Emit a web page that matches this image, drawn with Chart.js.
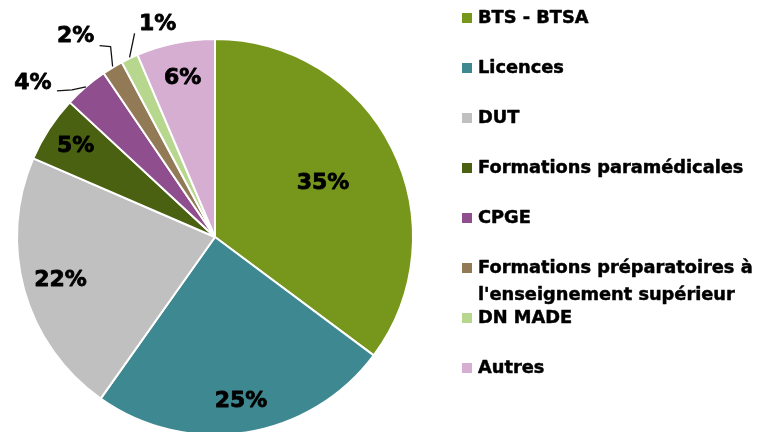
<!DOCTYPE html>
<html>
<head>
<meta charset="utf-8">
<script src="https://cdn.jsdelivr.net/npm/chart.js@4/dist/chart.umd.min.js"></script>
<style>
    html, body { margin: 0; padding: 0; background: #fff; overflow: hidden; }
    #wrap { width: 759px; height: 440px; }
</style>
</head>
<body>
<div id="wrap"><canvas id="pieChart" width="759" height="440"></canvas></div>
<script>
const categories = ['BTS - BTSA', 'Licences', 'DUT', 'Formations paramédicales', 'CPGE',
    "Formations préparatoires à\nl'enseignement supérieur", 'DN MADE', 'Autres'];
const shares = [35.2, 24.6, 21.7, 5.4, 3.6, 1.7, 1.4, 6.4];
const colors = ['#76971c', '#3e8891', '#c0c0c0', '#4a6112', '#8f4f8e', '#937a57', '#b8d78e', '#d5aed2'];

// label placement: inside at a fraction of the radius, or outside with a leader line
const labelStyle = [
    { r: 0.61 }, { r: 0.84 }, { r: 0.81 }, { r: 0.84 },
    { dx: -53, dy: -4, line: [[0, 0], [-14, 3], [-29, 4]] },
    { dx: -37, dy: -31, line: [[0, -1], [-2, -21], [-13, -22]] },
    { dx: 28, dy: -34, line: [[0, -1], [5, -25]] },
    { r: 0.82 }
];

function boldText(ctx, txt, x, y, w) {
    ctx.lineWidth = w;
    ctx.strokeStyle = '#000';
    ctx.strokeText(txt, x, y);
    ctx.fillText(txt, x, y);
}

const labelsPlugin = {
    id: 'pieLabels',
    afterDatasetsDraw(chart) {
        const ctx = chart.ctx;
        const meta = chart.getDatasetMeta(0);
        ctx.save();
        ctx.font = 'bold 22px "DejaVu Sans"';
        ctx.textAlign = 'center';
        ctx.textBaseline = 'middle';
        ctx.lineJoin = 'round';
        ctx.fillStyle = '#000';
        meta.data.forEach((arc, i) => {
            const p = arc.getProps(['x', 'y', 'startAngle', 'endAngle', 'outerRadius'], true);
            const mid = (p.startAngle + p.endAngle) / 2;
            const txt = Math.round(shares[i]) + '%';
            const st = labelStyle[i];
            if (st.r !== undefined) {
                const r = p.outerRadius * st.r;
                boldText(ctx, txt, p.x + Math.cos(mid) * r, p.y + Math.sin(mid) * r, 0.8);
            } else {
                const ex = p.x + Math.cos(mid) * p.outerRadius;
                const ey = p.y + Math.sin(mid) * p.outerRadius;
                ctx.beginPath();
                st.line.forEach((pt, k) => {
                    if (k === 0) ctx.moveTo(ex + pt[0], ey + pt[1]);
                    else ctx.lineTo(ex + pt[0], ey + pt[1]);
                });
                ctx.strokeStyle = '#111';
                ctx.lineWidth = 1.3;
                ctx.stroke();
                boldText(ctx, txt, ex + st.dx, ey + st.dy, 0.8);
            }
        });

        // legend
        ctx.font = 'bold 17.8px "DejaVu Sans"';
        ctx.textAlign = 'left';
        chart.data.labels.forEach((lab, i) => {
            const y = 18 + i * 50;
            ctx.fillStyle = colors[i];
            ctx.fillRect(462, y - 5, 10, 10);
            ctx.fillStyle = '#000';
            lab.split('\n').forEach((line, k) => {
                boldText(ctx, line, 478, y + k * 27, 0.5);
            });
        });
        ctx.restore();
    }
};

new Chart(document.getElementById('pieChart'), {
    type: 'pie',
    data: {
        labels: categories,
        datasets: [{
            data: shares,
            backgroundColor: colors,
            borderColor: '#ffffff',
            borderWidth: 2
        }]
    },
    options: {
        responsive: false,
        animation: false,
        events: [],
        layout: { padding: { left: 16, right: 345, top: 38, bottom: 4 } },
        plugins: {
            legend: { display: false },
            tooltip: { enabled: false }
        }
    },
    plugins: [labelsPlugin]
});
</script>
</body>
</html>
